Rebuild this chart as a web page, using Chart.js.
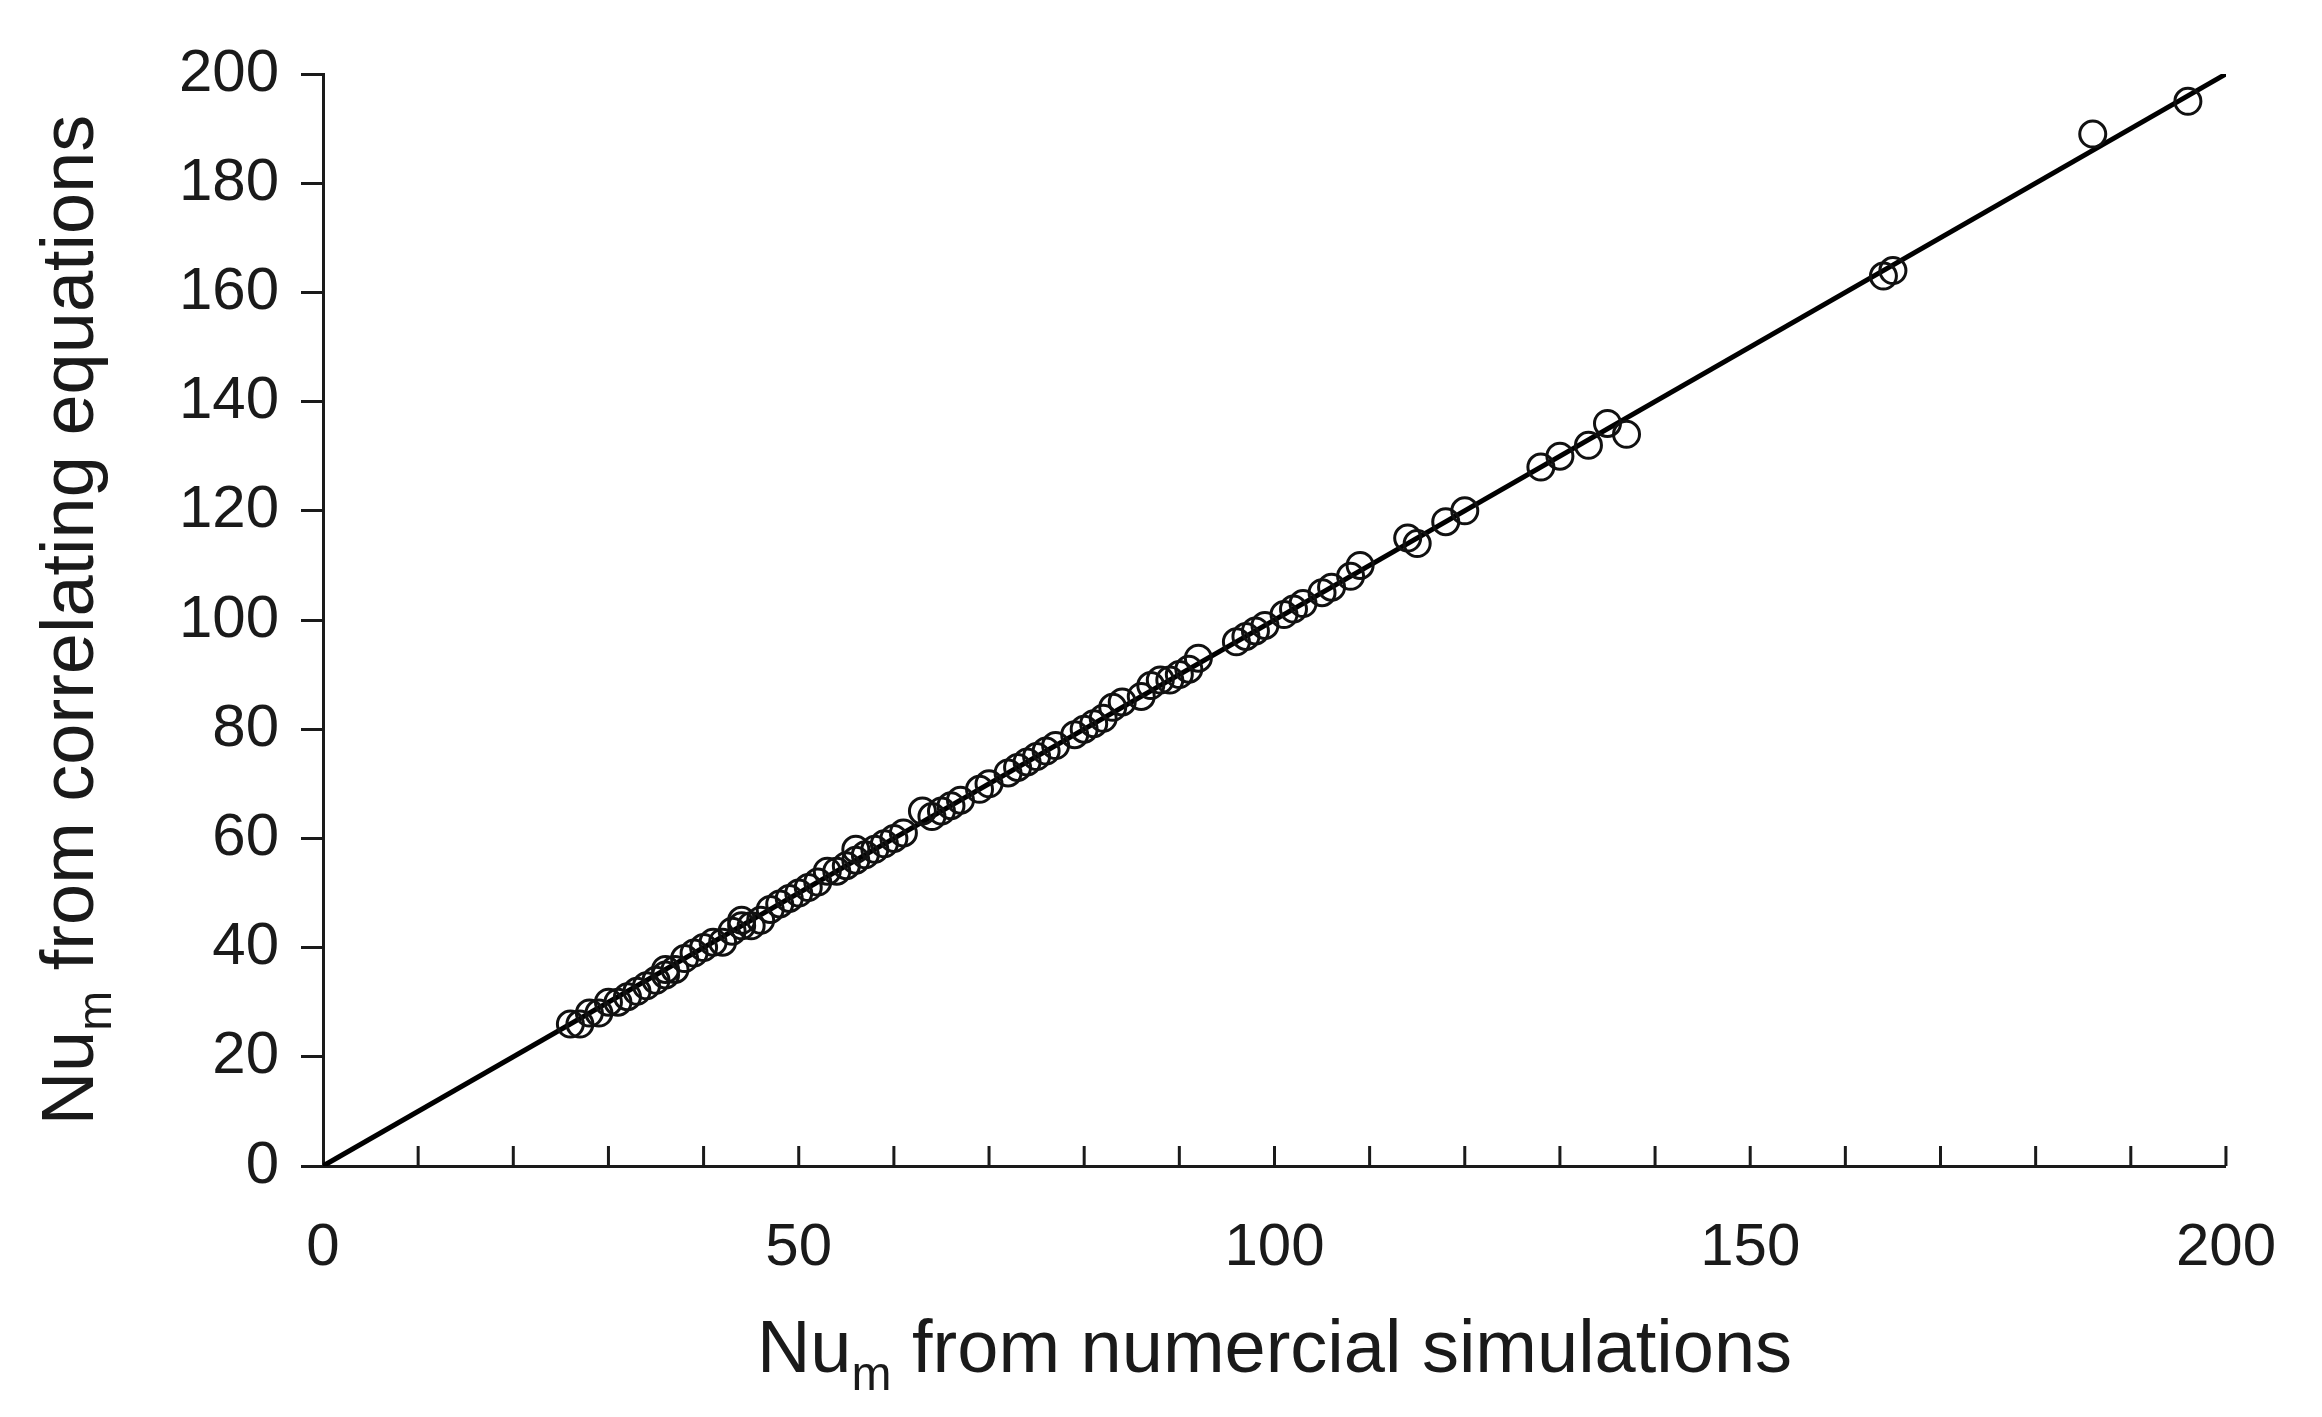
<!DOCTYPE html>
<html><head><meta charset="utf-8">
<script src="https://cdn.jsdelivr.net/npm/chart.js@4/dist/chart.umd.min.js"></script>
<style>html,body{margin:0;padding:0;background:#fff}#w{width:2322px;height:1417px}</style>
</head><body><div id="w"><canvas id="c"></canvas></div>
<script>
const simX = [26,27,28,29,30,31,32,33,34,35,36,36,37,38,39,40,41,42,43,44,44,45,46,47,48,49,50,51,52,53,54,55,56,56,57,58,59,60,61,63,64,65,66,67,69,70,72,73,74,75,76,77,79,80,81,82,83,84,86,87,88,89,90,91,92,96,97,98,99,101,102,103,105,106,108,109,114,115,118,120,128,130,133,135,137,164,165,186,196];
const corrY = [26,26,28,28,30,30,31,32,33,34,35,36,36,38,39,40,41,41,43,44,45,44,45,47,48,49,50,51,52,54,54,55,56,58,57,58,59,60,61,65,64,65,66,67,69,70,72,73,74,75,76,77,79,80,81,82,84,85,86,88,89,89,90,91,93,96,97,98,99,101,102,103,105,106,108,110,115,114,118,120,128,130,132,136,134,163,164,189,195];
const lineX = [0,200];
const lineY = [0,200];
const xTicks = [0,50,100,150,200];
const yTicks = [0,20,40,60,80,100,120,140,160,180,200];

const FONT = 'Liberation Sans, Arial, sans-serif';
const COL = '#1a1a1a';
const pts = simX.map((x,i)=>({x, y: corrY[i]}));
const line = lineX.map((x,i)=>({x, y: lineY[i]}));

const deco = {
  id:'deco',
  afterDraw(ch){
    const ctx = ch.ctx, xs = ch.scales.x, ys = ch.scales.y, ca = ch.chartArea;
    ctx.save();
    ctx.strokeStyle = COL; ctx.lineWidth = 3;
    for(let v=10; v<=200; v+=10){
      const px = xs.getPixelForValue(v);
      ctx.beginPath(); ctx.moveTo(px, ca.bottom); ctx.lineTo(px, ca.bottom-20); ctx.stroke();
    }
    function sub(x, y, rot){
      ctx.save(); ctx.translate(x,y); if(rot) ctx.rotate(rot);
      ctx.fillStyle = COL; ctx.textBaseline='alphabetic';
      const big = '74px '+FONT, small = '48px '+FONT;
      ctx.font = big; const w1 = ctx.measureText('Nu').width;
      ctx.font = small; const w2 = ctx.measureText('m').width;
      ctx.font = big; const rest = rot ? ' from correlating equations' : ' from numercial simulations';
      const w3 = ctx.measureText(rest).width;
      const tot = w1+w2+w3; let sx = -tot/2;
      ctx.font = big; ctx.fillText('Nu', sx, 27); sx += w1;
      ctx.font = small; ctx.fillText('m', sx, 45); sx += w2;
      ctx.font = big; ctx.fillText(rest, sx, 27);
      ctx.restore();
    }
    sub((ca.left+ca.right)/2, 1345, 0);
    sub(66, (ca.top+ca.bottom)/2, -Math.PI/2);
    ctx.restore();
  }
};

new Chart(document.getElementById('c'), {
  type:'scatter',
  data:{datasets:[
    {data: line, showLine:true, pointRadius:0, borderColor:'#000', borderWidth:5, order:2},
    {data: pts, pointRadius:13, pointBorderWidth:3, pointBorderColor:'#111', pointBackgroundColor:'rgba(0,0,0,0)', order:1}
  ]},
  options:{
    responsive:true, maintainAspectRatio:false, animation:false,
    layout:{padding:{top:74,right:62,left:0,bottom:0}},
    plugins:{legend:{display:false}, tooltip:{enabled:false}},
    scales:{
      x:{min:0,max:200,
        afterFit(s){s.height=251;},
        afterBuildTicks(s){s.ticks = xTicks.map(v=>({value:v}));},
        border:{color:COL,width:3},
        grid:{drawOnChartArea:false, drawTicks:false, tickLength:0},
        ticks:{padding:46, color:COL, font:{family:FONT,size:60}}
      },
      y:{min:0,max:200,
        afterFit(s){s.width=323;},
        afterBuildTicks(s){s.ticks = yTicks.map(v=>({value:v}));},
        border:{color:COL,width:3},
        grid:{drawOnChartArea:false, drawTicks:true, tickLength:22, color:COL, lineWidth:3},
        ticks:{padding:22, color:COL, font:{family:FONT,size:60}}
      }
    }
  },
  plugins:[deco]
});
</script></body></html>
